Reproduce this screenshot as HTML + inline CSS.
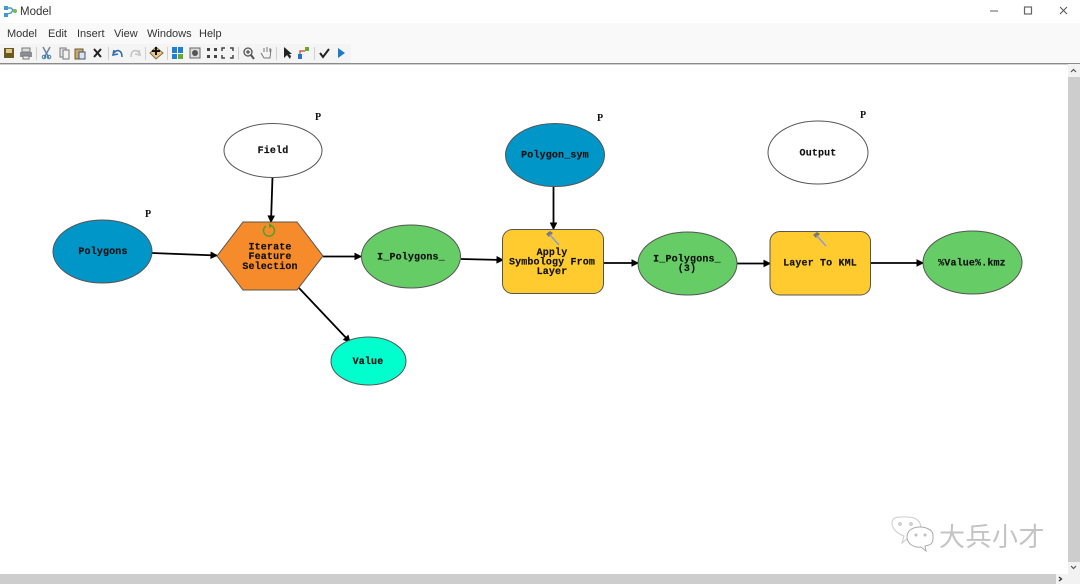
<!DOCTYPE html>
<html><head><meta charset="utf-8"><style>
html,body{margin:0;padding:0;background:#fff}
svg{display:block}
.n{font:bold 10px "Liberation Mono",monospace;fill:#111;text-anchor:middle;letter-spacing:.15px;stroke:#111;stroke-width:.15}
.m{font:11px "Liberation Sans",sans-serif;fill:#333}
.p{font:bold 10px "Liberation Serif",serif;fill:#111;text-anchor:middle}
</style></head><body>
<svg width="1080" height="584" viewBox="0 0 1080 584" xmlns="http://www.w3.org/2000/svg">
<defs><marker id="a" markerWidth="9" markerHeight="9" refX="7" refY="4" orient="auto" markerUnits="userSpaceOnUse"><path d="M1 1L7 4L1 7z" fill="#000" stroke="#000" stroke-width="1"/></marker>
<g id="h"><path d="M-6 -4L-2 -7L1 -5L-3 -1z" fill="#777"/><path d="M-2 -3L7 7" stroke="#bbb" stroke-width="2.2"/><path d="M-2 -3L7 7" stroke="#888" stroke-width=".6"/></g></defs>
<rect width="1080" height="584" fill="#fff"/>
<!-- chrome -->
<rect y="23" width="1080" height="40" fill="#f9f9f9"/>
<rect x="0" y="44" width="351" height="19" fill="#f4f4f4"/>
<rect y="63" width="1080" height="1.4" fill="#8a8a8a"/>
<g><path d="M7 8H11L13 10L11 13L7 14" fill="none" stroke="#4b93c8" stroke-width="1.4"/><rect x="4" y="6" width="4" height="4" fill="#3f9bd6"/><rect x="4" y="13" width="4" height="4" fill="#3f9bd6"/><circle cx="15" cy="11" r="2" fill="#6fbf4a"/></g>
<text x="20" y="15" font-family="Liberation Sans" font-size="11.5" fill="#333">Model</text>
<path d="M990 11H998" stroke="#999" stroke-width="1.6"/>
<rect x="1024.5" y="7" width="7" height="7" fill="none" stroke="#666" stroke-width="1.2"/>
<path d="M1060 7L1067 14M1067 7L1060 14" stroke="#555" stroke-width="1"/>
<text class="m" x="7" y="37">Model</text><text class="m" x="48" y="37">Edit</text><text class="m" x="77" y="37">Insert</text><text class="m" x="114" y="37">View</text><text class="m" x="147" y="37">Windows</text><text class="m" x="199" y="37">Help</text>
<!-- toolbar -->
<g stroke-width="1">
<rect x="4" y="48" width="10" height="10" fill="#6b5a20"/><rect x="6" y="49" width="6" height="4" fill="#d9c98a"/>
<rect x="20" y="52" width="12" height="5" fill="#8b8f95"/><rect x="22" y="48" width="8" height="4" fill="#ddd" stroke="#777"/><rect x="23" y="56" width="6" height="3" fill="#eee" stroke="#777"/>
<path d="M36.500 47V60M108.500 47V60M145.500 47V60M167.500 47V60M238.500 47V60M276.500 47V60M314.500 47V60" stroke="#d0d0d0"/>
<path d="M43 47L49 58M50 47L44 58" stroke="#6a7f99" stroke-width="1.4"/><circle cx="44" cy="57" r="1.800" fill="none" stroke="#3a7fb8"/><circle cx="49" cy="57" r="1.800" fill="none" stroke="#3a7fb8"/>
<rect x="60" y="48" width="6" height="9" fill="#e8e8e8" stroke="#777"/><rect x="63" y="50" width="6" height="9" fill="#f3f3f3" stroke="#777"/>
<rect x="75" y="49" width="8" height="10" fill="#c9a96a" stroke="#6b5a3a"/><rect x="79" y="52" width="6" height="7" fill="#d8e6f3" stroke="#456"/>
<path d="M94 49L101 57M101 49L94 57" stroke="#222" stroke-width="2"/>
<path d="M114 50L113 55L118 54M114 53C117 49 122 50 122 57" fill="none" stroke="#2f6db0" stroke-width="1.600"/>
<path d="M139 50L140 55L135 54M139 53C136 49 131 50 131 57" fill="none" stroke="#c4c4c4" stroke-width="1.600"/>
<path d="M150 53L156 47L163 53L156 59z" fill="#e8c98a" stroke="#7a6a4a"/><path d="M156 47V55M152 51H160" stroke="#111" stroke-width="2"/>
<rect x="172" y="47" width="5" height="6" fill="#1f7fd0"/><rect x="178" y="47" width="5" height="6" fill="#1f7fd0"/><rect x="172" y="54" width="5" height="5" fill="#1f7fd0"/><rect x="178" y="54" width="5" height="5" fill="#6aa82a"/>
<rect x="190" y="48" width="10" height="10" fill="#ddd" stroke="#666"/><circle cx="195" cy="53" r="3" fill="#555"/>
<path d="M207 48h3v3h-3zM214 48h3v3h-3zM207 55h3v3h-3zM214 55h3v3h-3z" fill="#444"/>
<path d="M222 51V48h3M230 48h3v3M222 55v3h3M233 55v3h-3" fill="none" stroke="#444" stroke-width="1.500"/>
<circle cx="248" cy="52" r="4" fill="#eee" stroke="#555" stroke-width="1.300"/><path d="M251 55L254 59" stroke="#555" stroke-width="2"/><path d="M246 52H250M248 50V54" stroke="#333"/>
<path d="M261 53L264 58H270L271 49M264 52V48M267 52V47M270 52V48" fill="none" stroke="#777"/>
<path d="M284 47V58L287 55L290 59L291 56L289 54H292z" fill="#222"/>
<rect x="298" y="54" width="4" height="5" fill="#2a72c8"/><rect x="305" y="47" width="4" height="4" fill="#6aa82a"/><path d="M300 54V51H305" fill="none" stroke="#d0402a" stroke-width="1.200"/>
<path d="M320 53L323 57L329 49" fill="none" stroke="#222" stroke-width="2"/>
<path d="M338 48L345 53L338 58z" fill="#1c78c8"/>
</g>
<!-- scrollbars -->
<rect x="1068" y="64" width="12" height="520" fill="#f2f2f2"/>
<rect x="1068" y="77" width="12" height="485" fill="#cdcdcd"/>
<path d="M1071 72L1073.500 69.500L1076 72M1071 566L1073.500 568.500L1076 566" fill="none" stroke="#555" stroke-width="1.200"/>
<rect y="574" width="1056" height="10" fill="#cdcdcd"/>
<rect x="1056" y="574" width="24" height="10" fill="#f2f2f2"/>
<path d="M1059 577L1061.500 579L1059 581" fill="none" stroke="#333" stroke-width="1.300"/>
<!-- connectors -->
<g stroke="#000" stroke-width="1.800" fill="none">
<path d="M152 253L217 255.500" marker-end="url(#a)"/>
<path d="M272.500 177L271 222" marker-end="url(#a)"/>
<path d="M323 256.500H361" marker-end="url(#a)"/>
<path d="M299 288L350 342" marker-end="url(#a)"/>
<path d="M461 259L503 260" marker-end="url(#a)"/>
<path d="M553.500 187V229" marker-end="url(#a)"/>
<path d="M603 263H638" marker-end="url(#a)"/>
<path d="M737 263.500H770" marker-end="url(#a)"/>
<path d="M870 263H923" marker-end="url(#a)"/>
</g>
<!-- nodes -->
<g stroke="#555" stroke-width="1">
<ellipse cx="102.500" cy="251.500" rx="49.500" ry="31.500" fill="#0096c8"/>
<ellipse cx="273" cy="150.500" rx="49" ry="27" fill="#fff"/>
<path d="M217 256L243 222H297L323 256L297 290H243z" fill="#f68b2c"/>
<ellipse cx="411" cy="256.500" rx="49.500" ry="31.500" fill="#66cc66"/>
<rect x="502.500" y="229.500" width="101" height="64" rx="10" fill="#ffcb2e"/>
<ellipse cx="687.500" cy="263.500" rx="49.500" ry="31.500" fill="#66cc66"/>
<rect x="770" y="231.500" width="100.500" height="63.500" rx="10" fill="#ffcb2e"/>
<ellipse cx="972.500" cy="262.500" rx="49.500" ry="31.500" fill="#66cc66"/>
<ellipse cx="555" cy="155" rx="49.500" ry="31.500" fill="#0096c8"/>
<ellipse cx="818" cy="152.500" rx="50" ry="31.500" fill="#fff"/>
<ellipse cx="368.500" cy="361" rx="37.500" ry="24" fill="#00ffcc"/>
</g>
<!-- icons in tools -->
<path d="M266 226A5.500 5.500 0 1 0 272 226" fill="none" stroke="#4ea12a" stroke-width="1.500"/><path d="M269 223L273 226L269 228z" fill="#4ea12a"/>
<use href="#h" x="552" y="238"/>
<use href="#h" x="819" y="239"/>
<!-- labels -->
<text class="n" x="103" y="254">Polygons</text>
<text class="n" x="273" y="153">Field</text>
<text class="n" x="270" y="249.500">Iterate</text><text class="n" x="270" y="259">Feature</text><text class="n" x="270" y="269">Selection</text>
<text class="n" x="411" y="259.500">I_Polygons_</text>
<text class="n" x="552" y="255">Apply</text><text class="n" x="552" y="264.500">Symbology From</text><text class="n" x="552" y="274">Layer</text>
<text class="n" x="687" y="261.500">I_Polygons_</text><text class="n" x="687" y="271">(3)</text>
<text class="n" x="820" y="265.500">Layer To KML</text>
<text class="n" x="972" y="265.500">%Value%.kmz</text>
<text class="n" x="555" y="157.500">Polygon_sym</text>
<text class="n" x="818" y="155.500">Output</text>
<text class="n" x="368" y="364">Value</text>
<text class="p" x="148" y="217">P</text><text class="p" x="318" y="120">P</text><text class="p" x="600" y="121">P</text><text class="p" x="863" y="118">P</text>
<!-- watermark -->
<g fill="#fff" stroke="#b5b5b5" stroke-width="1">
<path d="M902 543L904 536C896 533 892 528 892 523C892 516 899 517 907 517C916 517 921 521 921 529C921 536 912 538 908 538z" stroke="#ccc"/>
<path d="M926 551L925 546C934 545 933 540 933 535C933 530 926 527 920 527C912 527 907 531 907 537C907 543 913 548 921 547z" stroke="#aaa"/>
<circle cx="900" cy="524" r="1.200"/><circle cx="911" cy="524" r="1.200"/><circle cx="916" cy="535" r="1"/><circle cx="925" cy="535" r="1"/>
</g>
<text x="939" y="546" font-family="'Liberation Sans','Noto Sans CJK SC',sans-serif" font-size="26" fill="#c4c4c4" letter-spacing="0.500">大兵小才</text>
</svg>
</body></html>
